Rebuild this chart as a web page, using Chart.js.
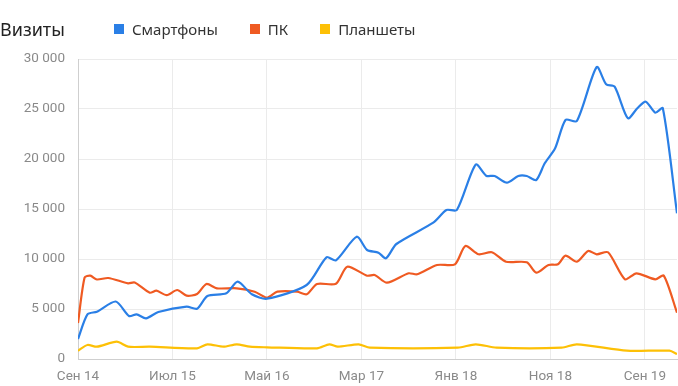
<!DOCTYPE html>
<html>
<head>
<meta charset="utf-8">
<script src="https://cdn.jsdelivr.net/npm/chart.js@4/dist/chart.umd.min.js"></script>
<style>
  html, body { margin: 0; padding: 0; background: #fff; }
  #wrap { position: relative; width: 678px; height: 386px; }
  #head { position: absolute; left: 0; top: 17px; height: 24px; font-family: "Noto Sans", sans-serif; color: #222; }
  #title { position: absolute; left: 0; top: 0; font-size: 18px; line-height: 24px; }
  #legend { position: absolute; left: 114px; top: 2px; display: flex; font-size: 15px; line-height: 20px; color: #333; white-space: nowrap; }
  .item { display: flex; align-items: center; margin-right: 32px; }
  .sw { width: 10px; height: 10px; margin-right: 8px; }
</style>
</head>
<body>
<div id="wrap">
  <canvas id="c" width="678" height="386"></canvas>
  <div id="head"><span id="title">Визиты</span><div id="legend"></div></div>
</div>
<script>
// x = months since Sep 2014
const tickLabels = ["Сен 14", "Июл 15", "Май 16", "Мар 17", "Янв 18", "Ноя 18", "Сен 19"];

const smartMonths = [0, 1.0, 2.0, 4.0, 5.4, 6.2, 7.2, 8.5, 11.5, 12.6, 13.7, 15.7, 16.9, 18.4, 20.0, 24.2, 26.3, 27.3, 29.5, 30.6, 31.8, 32.6, 33.7, 37.6, 39.0, 40.1, 42.1, 43.2, 44.1, 45.4, 46.6, 47.5, 48.5, 49.4, 50.5, 51.6, 52.8, 54.9, 55.9, 56.8, 58.2, 59.2, 60.1, 61.1, 61.9, 63.4];
const smartValues = [2000, 4470, 4730, 5750, 4300, 4470, 4070, 4700, 5230, 5030, 6300, 6570, 7730, 6470, 6030, 7400, 10170, 9870, 12230, 10900, 10630, 10070, 11500, 13630, 14900, 14900, 19450, 18330, 18300, 17630, 18300, 18300, 17900, 19570, 21070, 23900, 23800, 29200, 27470, 27230, 24070, 25070, 25730, 24630, 25070, 14570];

const pcMonths = [0, 0.7, 1.3, 2.0, 3.2, 5.3, 6.0, 7.6, 8.3, 9.4, 10.5, 11.5, 12.6, 13.6, 14.7, 16.8, 18.7, 20.0, 21.1, 23.2, 24.2, 25.3, 27.3, 28.5, 30.6, 31.4, 32.7, 35.0, 35.9, 38.0, 39.9, 41.0, 42.4, 43.8, 45.3, 47.5, 48.5, 49.8, 50.8, 51.6, 52.8, 54.0, 54.9, 56.1, 57.9, 59.1, 61.1, 62.0, 63.4];
const pcValues = [3600, 8150, 8330, 7950, 8100, 7570, 7650, 6630, 6830, 6380, 6900, 6330, 6500, 7500, 7070, 7070, 6730, 6130, 6730, 6730, 6470, 7500, 7530, 9230, 8330, 8400, 7630, 8570, 8470, 9400, 9470, 11300, 10470, 10670, 9730, 9670, 8630, 9400, 9470, 10330, 9730, 10800, 10470, 10670, 7970, 8570, 7970, 8330, 4630];

const tabletMonths = [0, 1.0, 2.0, 4.1, 5.3, 7.6, 12.6, 13.7, 15.4, 16.8, 18.2, 20.0, 25.3, 26.6, 27.5, 29.7, 30.9, 40.2, 42.1, 44.3, 51.2, 52.8, 58.1, 62.6, 63.4];
const tabletValues = [830, 1400, 1230, 1730, 1230, 1230, 1070, 1470, 1230, 1470, 1230, 1170, 1070, 1470, 1230, 1470, 1130, 1130, 1470, 1130, 1130, 1470, 830, 830, 500];

const seriesNames = ["Смартфоны", "ПК", "Планшеты"];
const seriesColors = ["#2a7fe6", "#ef5a22", "#fdc006"];

function points(xs, ys) {
  return xs.map((x, i) => ({ x: x, y: ys[i] }));
}

function fmt(v) {
  return String(v).replace(/\B(?=(\d{3})+(?!\d))/g, " ");
}

const sets = [
  points(smartMonths, smartValues),
  points(pcMonths, pcValues),
  points(tabletMonths, tabletValues)
];

const legend = document.getElementById("legend");
seriesNames.forEach((name, i) => {
  const it = document.createElement("div");
  it.className = "item";
  it.innerHTML = '<span class="sw" style="background:' + seriesColors[i] + '"></span><span>' + name + '</span>';
  legend.appendChild(it);
});

const axisFont = { family: "Roboto, sans-serif", size: 13.5 };

new Chart(document.getElementById("c"), {
  type: "line",
  data: {
    datasets: sets.map((d, i) => ({
      label: seriesNames[i],
      data: d,
      borderColor: seriesColors[i],
      backgroundColor: seriesColors[i],
      borderWidth: 2.2,
      pointRadius: 0,
      tension: 0.25,
      fill: false
    }))
  },
  options: {
    responsive: false,
    animation: false,
    layout: { padding: { top: 59, right: 1, left: 0, bottom: 0 } },
    scales: {
      x: {
        type: "linear",
        min: 0,
        max: 63.4,
        afterFit: s => { s.height = 27; },
        ticks: {
          stepSize: 10,
          includeBounds: false,
          autoSkip: false,
          maxRotation: 0,
          padding: 10,
          color: "#8a8a8a",
          font: axisFont,
          callback: v => tickLabels[Math.round(v / 10)]
        },
        grid: { color: "#ebebeb", drawTicks: false },
        border: { color: "#cfcfcf" }
      },
      y: {
        min: 0,
        max: 30000,
        afterFit: s => { s.width = 78; },
        ticks: {
          stepSize: 5000,
          padding: 13,
          color: "#8a8a8a",
          font: axisFont,
          callback: v => fmt(v)
        },
        grid: { color: "#ebebeb", drawTicks: false },
        border: { color: "#cfcfcf" }
      }
    },
    plugins: {
      legend: { display: false },
      title: { display: false },
      tooltip: { enabled: false }
    }
  }
});
</script>
</body>
</html>
